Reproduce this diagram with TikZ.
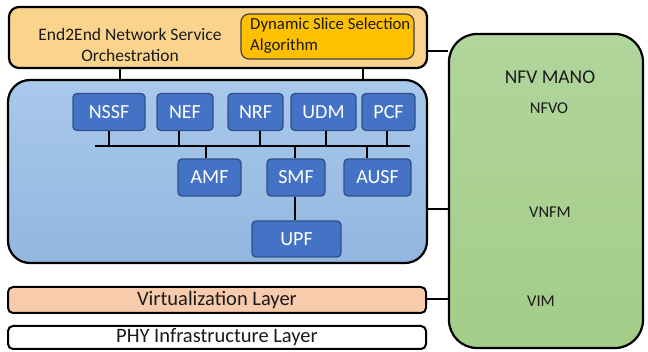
\documentclass[tikz,border=0pt]{standalone}
\usepackage{fontspec}
\setmainfont{Carlito}
\usetikzlibrary{calc}

\definecolor{orchfill}{HTML}{FAD48C}
\definecolor{dssfill}{HTML}{FFC000}
\definecolor{corefilltop}{HTML}{A9C9EB}
\definecolor{corefillbot}{HTML}{92B6DF}
\definecolor{nffill}{HTML}{4472C4}
\definecolor{nfborder}{HTML}{2F4F8C}
\definecolor{virtfill}{HTML}{F8CBAD}
\definecolor{manotop}{HTML}{B1D59C}
\definecolor{manobot}{HTML}{A3CD88}
\definecolor{txt}{HTML}{1A1A1A}

\tikzset{
  panel/.style={draw=black, line width=2.2pt, rounded corners=#1, inner sep=0pt},
  nfbox/.style={draw=nfborder, line width=1.3pt, fill=nffill, rounded corners=4pt,
    text=white, font=\fontsize{20}{22}\selectfont, inner sep=0pt,
    minimum height=37pt},
  link/.style={draw=black, line width=2pt},
  lbl/.style={text=txt, inner sep=0pt},
}

\begin{document}
\begin{tikzpicture}[x=1pt, y=-1pt]
\useasboundingbox (0,0) rectangle (648,352);

% NFV MANO block
\node[panel=28pt, top color=manotop, bottom color=manobot,
      minimum width=194pt, minimum height=314pt] (mano) at (546,191) {};
\node[lbl, font=\fontsize{19.5}{22}\selectfont] (manot) at (550,77) {NFV MANO};
\node[lbl, font=\fontsize{16.5}{19}\selectfont] (nfvo) at (549,108) {NFVO};
\node[lbl, font=\fontsize{16.5}{19}\selectfont] (vnfm) at (550,212) {VNFM};
\node[lbl, font=\fontsize{16.5}{19}\selectfont] (vim) at (541,301) {VIM};

% End-to-end orchestration
\node[panel=10pt, fill=orchfill, minimum width=418pt, minimum height=61pt] (orch) at (218,37.5) {};
\node[lbl, align=center, font=\fontsize{17.5}{20.5}\selectfont] (orcht) at (130,45) {End2End Network Service\\Orchestration};
\node[draw=black!75, line width=1.2pt, rounded corners=8pt, fill=dssfill,
      minimum width=173pt, minimum height=45pt, inner sep=0pt] (dss) at (327.5,36.5) {};
\node[lbl, align=left, anchor=west, font=\fontsize{16.8}{20.5}\selectfont] (dsst) at (250,35.5)
  {Dynamic Slice Selection\\Algorithm};

% 5G core container
\node[panel=22pt, top color=corefilltop, bottom color=corefillbot,
      minimum width=419pt, minimum height=183pt] (core) at (217.5,171.5) {};

% Network functions
\node[nfbox, minimum width=72pt] (nssf) at (109,112) {NSSF};
\node[nfbox, minimum width=56pt] (nef) at (185,112) {NEF};
\node[nfbox, minimum width=55pt] (nrf) at (255.5,112) {NRF};
\node[nfbox, minimum width=65pt] (udm) at (323.5,112) {UDM};
\node[nfbox, minimum width=53pt] (pcf) at (388.5,112) {PCF};
\node[nfbox, minimum width=63pt] (amf) at (209.5,177.5) {AMF};
\node[nfbox, minimum width=58pt] (smf) at (296,177.5) {SMF};
\node[nfbox, minimum width=67pt] (ausf) at (377.5,177.5) {AUSF};
\node[nfbox, minimum width=89pt, minimum height=36pt] (upf) at (296.5,239) {UPF};

% Service bus
\coordinate (busL) at (95,146);
\coordinate (busR) at (410,146);
\draw[link] (busL) -- (busR);
\draw[link] (nssf.south) -- (nssf.south |- busL);
\draw[link] ([xshift=-6pt]nef.south) -- ([xshift=-6pt]nef.south |- busL);
\draw[link] ([xshift=4.5pt]nrf.south) -- ([xshift=4.5pt]nrf.south |- busL);
\draw[link] ([xshift=2.5pt]udm.south) -- ([xshift=2.5pt]udm.south |- busL);
\draw[link] ([xshift=-1.5pt]pcf.south) -- ([xshift=-1.5pt]pcf.south |- busL);
\draw[link] ([xshift=-3.5pt]amf.north) -- ([xshift=-3.5pt]amf.north |- busL);
\draw[link] ([xshift=-1pt]smf.north) -- ([xshift=-1pt]smf.north |- busL);
\draw[link] ([xshift=-10.5pt]ausf.north) -- ([xshift=-10.5pt]ausf.north |- busL);
\draw[link] ([xshift=-1pt]smf.south) -- ([xshift=-1pt]smf.south |- upf.north);

% Orchestration to core
\draw[link] (orch.south -| 120,0) -- (core.north -| 120,0);
\draw[link] (orch.south -| 363,0) -- (core.north -| 363,0);

% Infrastructure layers
\node[draw=black, line width=2pt, rounded corners=5pt, fill=virtfill,
      minimum width=418pt, minimum height=26pt, inner sep=0pt,
      font=\fontsize{20.5}{23}\selectfont, text=txt] (virt) at (217,300) {Virtualization Layer};
\node[draw=black, line width=2pt, rounded corners=5pt, fill=white,
      minimum width=418pt, minimum height=23pt, inner sep=0pt,
      font=\fontsize{20.5}{23}\selectfont, text=txt] (phy) at (217,337.5) {PHY Infrastructure Layer};

% Links to MANO
\draw[link] (orch.east |- 0,51) -- (mano.west |- 0,51);
\draw[link] (core.east |- 0,209) -- (mano.west |- 0,209);
\draw[link] (virt.east |- 0,299) -- (mano.west |- 0,299);
\end{tikzpicture}
\end{document}
